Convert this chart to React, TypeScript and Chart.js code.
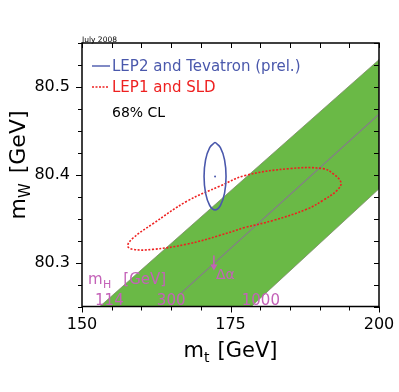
import React, { useEffect, useRef } from 'react';
import { Chart, registerables } from 'chart.js';

Chart.register(...registerables);

const FONT = "'DejaVu Sans', 'Liberation Sans', sans-serif";

// axes
const X_MIN = 150, X_MAX = 200, X_STEP = 5;
const Y_MIN = 80.25, Y_MAX = 80.55, Y_STEP = 0.025;
const xTickLabels = [150, 175, 200];
const yTickLabels = [80.3, 80.4, 80.5];

// SM prediction band (mH 114..1000 GeV)
const bandMt = [153.0, 200.0, 200.0, 178.5, 153.0];
const bandMw = [80.25, 80.531, 80.384, 80.25, 80.25];

// thin line inside band
const smLineMt = [166.5, 200.0];
const smLineMw = [80.264, 80.469];

// LEP2 and Tevatron 68% CL contour
const lep2Mt = [172.4, 171.5, 170.8, 170.55, 170.8, 171.5, 172.4, 173.3, 174.0, 174.25, 174.0, 173.3, 172.4];
const lep2Mw = [80.437, 80.431, 80.417, 80.398, 80.379, 80.365, 80.36, 80.365, 80.379, 80.398, 80.417, 80.431, 80.437];
const lep2CenterMt = [172.4];
const lep2CenterMw = [80.398];

// LEP1 and SLD 68% CL contour
const lep1Mt = [177.4, 173.2, 167.7, 161.9, 158.6, 157.7, 158.6, 161.9, 167.7, 173.2, 177.4, 185.0, 190.6, 192.3, 193.6, 192.9, 190.6, 187.9, 182.2, 177.4];
const lep1Mw = [80.34, 80.331, 80.321, 80.315, 80.315, 80.319, 80.328, 80.344, 80.37, 80.387, 80.399, 80.407, 80.407, 80.401, 80.391, 80.382, 80.371, 80.361, 80.348, 80.34];

const legendLabels = ['LEP2 and Tevatron (prel.)', 'LEP1 and SLD', '68% CL'];
const dateLabel = 'July 2008';
const mhLabels = ['114', '300', '1000'];
const mhLabelMt = [152.2, 162.6, 176.9];
const mhLabelMw = 80.2515;
const mhTitlePos = [151.0, 80.2755];
const alphaArrowMt = 172.2;
const alphaArrowMw = [80.308, 80.291];
const alphaLabelPos = [172.55, 80.2815];

const GREEN = '#6ab946';
const BLUE = '#4a58ac';
const RED = '#ee2020';
const MAGENTA = '#c462b8';

const pts = (xs: number[], ys: number[]) => xs.map((x, i) => ({ x, y: ys[i] }));
const near = (a: number, b: number) => Math.abs(a - b) < 1e-6;

const decor = {
  id: 'decor',
  afterDraw(chart: any) {
    const { ctx, chartArea: a, scales } = chart;
    const xs = scales.x, ys = scales.y;
    ctx.save();
    // frame
    ctx.strokeStyle = '#000';
    ctx.lineWidth = 1.5;
    ctx.strokeRect(a.left, a.top, a.right - a.left, a.bottom - a.top);
    // ticks
    ctx.lineWidth = 1;
    ctx.beginPath();
    for (let v = X_MIN; v <= X_MAX + 1e-9; v += X_STEP) {
      const px = Math.round(xs.getPixelForValue(v)) + 0.5;
      const major = xTickLabels.some((t) => near(t, v));
      ctx.moveTo(px, a.bottom); ctx.lineTo(px, a.bottom + (major ? 6 : 4));
      ctx.moveTo(px, a.top); ctx.lineTo(px, a.top + 5);
    }
    for (let i = 0; Y_MIN + i * Y_STEP <= Y_MAX + 1e-9; i++) {
      const v = Y_MIN + i * Y_STEP;
      const py = Math.round(ys.getPixelForValue(v)) + 0.5;
      const major = yTickLabels.some((t) => near(t, v));
      ctx.moveTo(a.left, py); ctx.lineTo(a.left - (major ? 6 : 4), py);
      ctx.moveTo(a.right, py); ctx.lineTo(a.right - 5, py);
    }
    ctx.stroke();

    // date
    ctx.fillStyle = '#000';
    ctx.font = `7.5px ${FONT}`;
    ctx.textAlign = 'left';
    ctx.textBaseline = 'alphabetic';
    ctx.fillText(dateLabel, a.left, a.top - 1);

    // legend
    ctx.lineWidth = 1.4;
    ctx.strokeStyle = BLUE;
    ctx.beginPath(); ctx.moveTo(a.left + 10, a.top + 23); ctx.lineTo(a.left + 28, a.top + 23); ctx.stroke();
    ctx.strokeStyle = RED;
    ctx.setLineDash([2, 1.5]);
    ctx.beginPath(); ctx.moveTo(a.left + 10, a.top + 44); ctx.lineTo(a.left + 26, a.top + 44); ctx.stroke();
    ctx.setLineDash([]);
    ctx.font = `15px ${FONT}`;
    ctx.textBaseline = 'middle';
    ctx.fillStyle = BLUE;
    ctx.fillText(legendLabels[0], a.left + 30, a.top + 24);
    ctx.fillStyle = RED;
    ctx.fillText(legendLabels[1], a.left + 30, a.top + 45);
    ctx.fillStyle = '#000';
    ctx.font = `14px ${FONT}`;
    ctx.fillText(legendLabels[2], a.left + 30, a.top + 70);

    // mH annotations
    ctx.fillStyle = MAGENTA;
    ctx.textBaseline = 'alphabetic';
    ctx.font = `15px ${FONT}`;
    mhLabels.forEach((t, i) => {
      ctx.fillText(t, xs.getPixelForValue(mhLabelMt[i]), ys.getPixelForValue(mhLabelMw));
    });
    let tx = xs.getPixelForValue(mhTitlePos[0]);
    const ty = ys.getPixelForValue(mhTitlePos[1]);
    ctx.fillText('m', tx, ty);
    tx += ctx.measureText('m').width + 0.5;
    ctx.font = `11px ${FONT}`;
    ctx.fillText('H', tx, ty + 4);
    tx += ctx.measureText('H').width + 12;
    ctx.font = `15px ${FONT}`;
    ctx.fillText('[GeV]', tx, ty);

    // delta alpha arrow
    const ax = xs.getPixelForValue(alphaArrowMt);
    const ay0 = ys.getPixelForValue(alphaArrowMw[0]);
    const ay1 = ys.getPixelForValue(alphaArrowMw[1]);
    ctx.strokeStyle = MAGENTA;
    ctx.lineWidth = 1.5;
    ctx.beginPath(); ctx.moveTo(ax, ay0); ctx.lineTo(ax, ay1 - 4); ctx.stroke();
    ctx.beginPath();
    ctx.moveTo(ax, ay1); ctx.lineTo(ax - 3.5, ay1 - 6); ctx.lineTo(ax + 3.5, ay1 - 6); ctx.closePath();
    ctx.fill();
    ctx.font = `14px ${FONT}`;
    ctx.fillText('Δα', xs.getPixelForValue(alphaLabelPos[0]), ys.getPixelForValue(alphaLabelPos[1]));

    // axis titles
    ctx.fillStyle = '#000';
    const drawTitle = (main: string, sub: string, rest: string, cx: number, base: number, size: number, gap: number) => {
      const big = `${size}px ${FONT}`, small = `${Math.round(size * 0.67)}px ${FONT}`;
      ctx.font = big; const w1 = ctx.measureText(main).width;
      const w3 = ctx.measureText(rest).width;
      ctx.font = small; const w2 = ctx.measureText(sub).width;
      let x = cx - (w1 + w2 + gap + w3) / 2;
      ctx.font = big; ctx.fillText(main, x, base); x += w1;
      ctx.font = small; ctx.fillText(sub, x, base + 5); x += w2 + gap;
      ctx.font = big; ctx.fillText(rest, x, base);
    };
    ctx.textAlign = 'left';
    ctx.textBaseline = 'alphabetic';
    drawTitle('m', 't', '[GeV]', (a.left + a.right) / 2, 357, 21, 8);
    ctx.save();
    ctx.translate(25, 165);
    ctx.rotate(-Math.PI / 2);
    drawTitle('m', 'W', '[GeV]', 0, 0, 22, 10);
    ctx.restore();

    ctx.restore();
  },
};

export default function App() {
  const ref = useRef<HTMLCanvasElement>(null);
  useEffect(() => {
    document.body.style.margin = '0';
    const canvas = ref.current!;
    const chart = new Chart(canvas, {
      type: 'line',
      data: {
        datasets: [
          { data: pts(lep2Mt, lep2Mw), borderColor: BLUE, borderWidth: 1.6, pointRadius: 0, tension: 0.4, fill: false, order: 0 },
          { data: pts(lep2CenterMt, lep2CenterMw), showLine: false, pointRadius: 1, pointBorderWidth: 0, pointBackgroundColor: BLUE, order: 0 },
          { data: pts(lep1Mt, lep1Mw), borderColor: RED, borderDash: [2, 1.6], borderWidth: 1.6, pointRadius: 0, tension: 0.4, fill: false, order: 1 },
          { data: pts(smLineMt, smLineMw), borderColor: '#857c8a', borderWidth: 1.1, pointRadius: 0, fill: false, order: 2 },
          { data: pts(bandMt, bandMw), borderColor: '#7a8a66', borderWidth: 0.8, backgroundColor: GREEN, pointRadius: 0, fill: 'shape', tension: 0, order: 3 },
        ] as any,
      },
      options: {
        animation: false,
        responsive: false,
        layout: { padding: { top: 43, right: 20, left: 0, bottom: 0 } },
        plugins: { legend: { display: false }, tooltip: { enabled: false } },
        scales: {
          x: {
            type: 'linear', min: X_MIN, max: X_MAX,
            grid: { display: false, drawTicks: false },
            border: { display: false },
            ticks: {
              stepSize: X_STEP, autoSkip: false, maxRotation: 0, padding: 9,
              color: '#000', font: { family: FONT, size: 16 },
              callback: (v: any) => (xTickLabels.some((t) => near(t, v)) ? String(Math.round(v)) : ''),
            },
            afterFit: (s: any) => { s.height = 85.5; s.paddingRight = 0; s.paddingLeft = 0; },
          },
          y: {
            type: 'linear', min: Y_MIN, max: Y_MAX,
            grid: { display: false, drawTicks: false },
            border: { display: false },
            ticks: {
              stepSize: Y_STEP, autoSkip: false, padding: 12,
              color: '#000', font: { family: FONT, size: 16 },
              callback: (v: any) => {
                const t = yTickLabels.find((l) => near(l, v));
                return t !== undefined ? t.toFixed(1) : '';
              },
            },
            afterFit: (s: any) => { s.width = 82; s.paddingTop = 0; s.paddingBottom = 0; },
          },
        },
      } as any,
      plugins: [decor],
    });
    return () => chart.destroy();
  }, []);
  return <canvas ref={ref} width={399} height={392} style={{ display: 'block' }} />;
}
